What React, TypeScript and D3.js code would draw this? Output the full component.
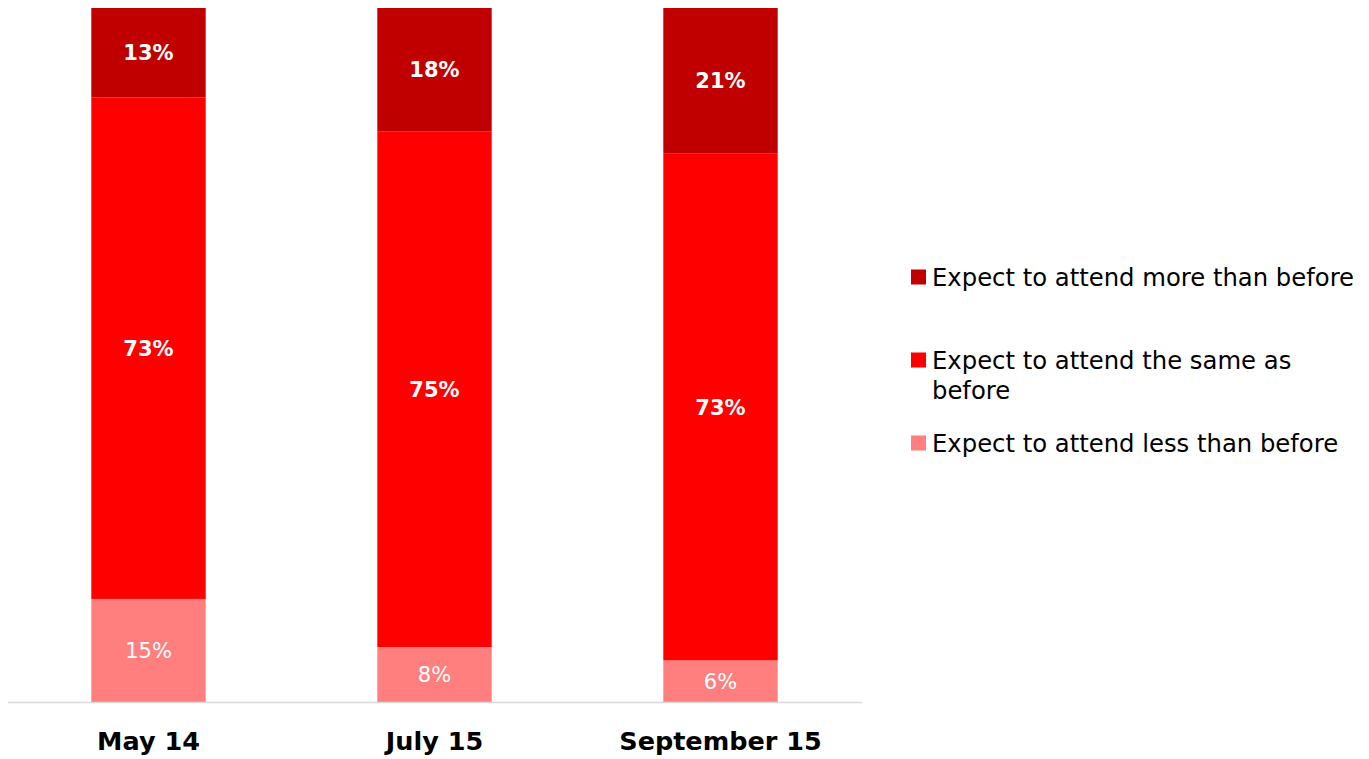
import React from "react";
import * as d3 from "d3";

const categories = ["May 14", "July 15", "September 15"];
const seriesNames = [
  "Expect to attend less than before",
  "Expect to attend the same as before",
  "Expect to attend more than before",
];
const lessValues = [15, 8, 6];
const sameValues = [73, 75, 73];
const moreValues = [13, 18, 21];
const colors = ["#FF7F7F", "#FF0000", "#C00000"];

const W = 1369;
const H = 759;
const FONT = "'DejaVu Sans', Verdana, sans-serif";

export default function App() {
  const x = d3.scaleBand<string>().domain(categories).range([5.5, 863.5]).paddingInner(0.6).paddingOuter(0.3);
  const y = d3.scaleLinear().domain([0, 1]).range([702, 8]);

  const rows = categories.map((c, i) => {
    const vals = [lessValues[i], sameValues[i], moreValues[i]];
    const total = d3.sum(vals);
    let acc = 0;
    return vals.map((v, s) => {
      const y0 = acc / total;
      acc += v;
      const y1 = acc / total;
      return { c, s, v, y0, y1 };
    });
  });

  const legendOrder = [2, 1, 0];
  const legendLines = [
    ["Expect to attend more than before"],
    ["Expect to attend the same as", "before"],
    ["Expect to attend less than before"],
  ];
  const legendY = [277, 360, 443];

  return (
    <svg width={W} height={H} style={{ position: "absolute", left: 0, top: 0, background: "#fff" }}>
      {rows.map((segs) =>
        segs.map((d) => (
          <rect
            key={d.c + d.s}
            x={x(d.c)}
            width={x.bandwidth()}
            y={y(d.y1)}
            height={y(d.y0) - y(d.y1)}
            fill={colors[d.s]}
          />
        ))
      )}
      <line x1={8} x2={862} y1={702.5} y2={702.5} stroke="#D9D9D9" strokeWidth={1.5} />
      {rows.map((segs) =>
        segs.map((d) => (
          <text
            key={"t" + d.c + d.s}
            x={(x(d.c) as number) + x.bandwidth() / 2}
            y={(y(d.y0) + y(d.y1)) / 2}
            dy="0.36em"
            textAnchor="middle"
            fill="#fff"
            fontFamily={FONT}
            fontSize={21}
            fontWeight={d.s === 0 ? "normal" : "bold"}
          >
            {d.v}%
          </text>
        ))
      )}
      {categories.map((c) => (
        <text
          key={"c" + c}
          x={(x(c) as number) + x.bandwidth() / 2}
          y={741}
          dy="0.36em"
          textAnchor="middle"
          fill="#000"
          fontFamily={FONT}
          fontSize={25.5}
          fontWeight="bold"
        >
          {c}
        </text>
      ))}
      {legendOrder.map((s, i) => (
        <g key={"l" + s}>
          <rect x={911} y={legendY[i] - 7.5} width={15} height={15} fill={colors[s]} />
          {legendLines[i].map((line, j) => (
            <text
              key={j}
              x={932}
              y={legendY[i] + j * 30}
              dy="0.36em"
              fill="#000"
              fontFamily={FONT}
              fontSize={24.3}
            >
              {line}
            </text>
          ))}
        </g>
      ))}
    </svg>
  );
}
